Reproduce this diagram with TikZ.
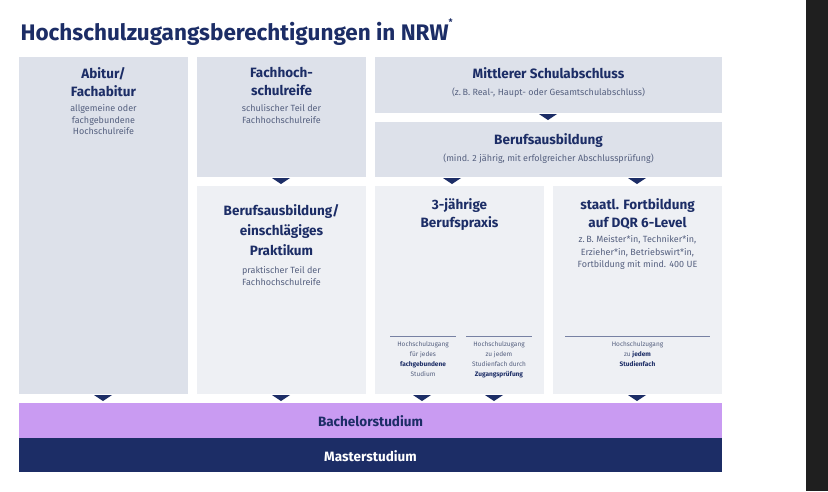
\documentclass[tikz,border=0pt]{standalone}
\usepackage{fontspec}
\setmainfont{Fira Sans}
\definecolor{navy}{HTML}{1C2D66}
\definecolor{boxa}{HTML}{DDE1EA}
\definecolor{boxb}{HTML}{EEF0F4}
\definecolor{purp}{HTML}{C99BF2}
\definecolor{greyt}{HTML}{55607F}
\begin{document}
\begin{tikzpicture}[x=1pt,y=-1pt,
  boxA/.style={fill=boxa,draw=none},
  boxB/.style={fill=boxb,draw=none},
  head/.style={text=navy,font=\bfseries\fontsize{13.5}{18}\selectfont,align=center,anchor=north},
  sub/.style={text=greyt,font=\fontsize{9}{11.5}\selectfont,align=center,anchor=north},
  tiny/.style={text=greyt,font=\fontsize{6.5}{10}\selectfont,align=center,anchor=north},
  tri/.style={fill=navy,draw=none}]
\useasboundingbox (0,0) rectangle (828,491);
\fill[white] (0,0) rectangle (806,491);
\fill[black!88] (806,0) rectangle (828,491);
\node[anchor=west,text=navy,font=\bfseries\fontsize{22.5}{26}\selectfont] (title) at (17,32) {Hochschulzugangsberechtigungen in NRW\raisebox{1.3ex}{\fontsize{9}{9}\selectfont*}};
% boxes
\fill[boxA] (19,57) rectangle (188,394);
\fill[boxA] (197,57) rectangle (366,177);
\fill[boxB] (197,186) rectangle (366,394);
\fill[boxA] (375,57) rectangle (722,113);
\fill[boxA] (375,122) rectangle (722,177);
\fill[boxB] (375,186) rectangle (544,394);
\fill[boxB] (553,186) rectangle (722,394);
\fill[purp] (19,403) rectangle (722,438);
\fill[navy] (19,438) rectangle (722,472);
% texts
\node[head] (abi) at (103.5,64) {Abitur/\\Fachabitur};
\node[sub] (abis) at (103.5,101) {allgemeine oder\\fachgebundene\\Hochschulreife};
\node[head] (fh) at (281.5,64) {Fachhoch-\\schulreife};
\node[sub] (fhs) at (281.5,101) {schulischer Teil der\\Fachhochschulreife};
\node[head] (msa) at (548.5,64) {Mittlerer Schulabschluss};
\node[sub] (msas) at (548.5,84) {(z.\,B. Real-, Haupt- oder Gesamtschulabschluss)};
\node[head] (ba) at (548.5,130) {Berufsausbildung};
\node[sub] (bas) at (548.5,150) {(mind. 2 jährig, mit erfolgreicher Abschlussprüfung)};
\node[head,font=\bfseries\fontsize{13.5}{20}\selectfont] (bp) at (281.5,201) {Berufsausbildung/\\einschlägiges\\Praktikum};
\node[sub] (bps) at (281.5,263) {praktischer Teil der\\Fachhochschulreife};
\node[head] (drei) at (459.5,195) {3-jährige\\Berufspraxis};
\node[head] (fort) at (637.5,195) {staatl. Fortbildung\\auf DQR 6-Level};
\node[sub,font=\fontsize{9}{12.5}\selectfont] (forts) at (637.5,232) {z.\,B. Meister*in, Techniker*in,\\Erzieher*in, Betriebswirt*in,\\Fortbildung mit mind. 400 UE};
\draw[navy!60,line width=0.8] (390,336) -- (456,336);
\draw[navy!60,line width=0.8] (466,336) -- (532,336);
\draw[navy!60,line width=0.8] (565,336) -- (710,336);
\node[tiny] (t1) at (423,338) {Hochschulzugang\\für jedes\\\textcolor{navy}{\bfseries fachgebundene}\\Studium};
\node[tiny] (t2) at (499,338) {Hochschulzugang\\zu jedem\\Studienfach durch\\\textcolor{navy}{\bfseries Zugangsprüfung}};
\node[tiny] (t3) at (637.5,338) {Hochschulzugang\\zu \textcolor{navy}{\bfseries jedem}\\\textcolor{navy}{\bfseries Studienfach}};
\node[text=navy,font=\bfseries\fontsize{13.5}{16}\selectfont] (bach) at (370.5,421) {Bachelorstudium};
\node[text=white,font=\bfseries\fontsize{13.5}{16}\selectfont] (mast) at (370.5,456) {Masterstudium};
% triangles
\foreach \x/\y in {103/395,281/178,281/395,548/114,452/178,637/178,422/395,494/395,637/395}
  \fill[tri] (\x-9,\y) -- (\x+9,\y) -- (\x,\y+6) -- cycle;
\end{tikzpicture}
\end{document}
